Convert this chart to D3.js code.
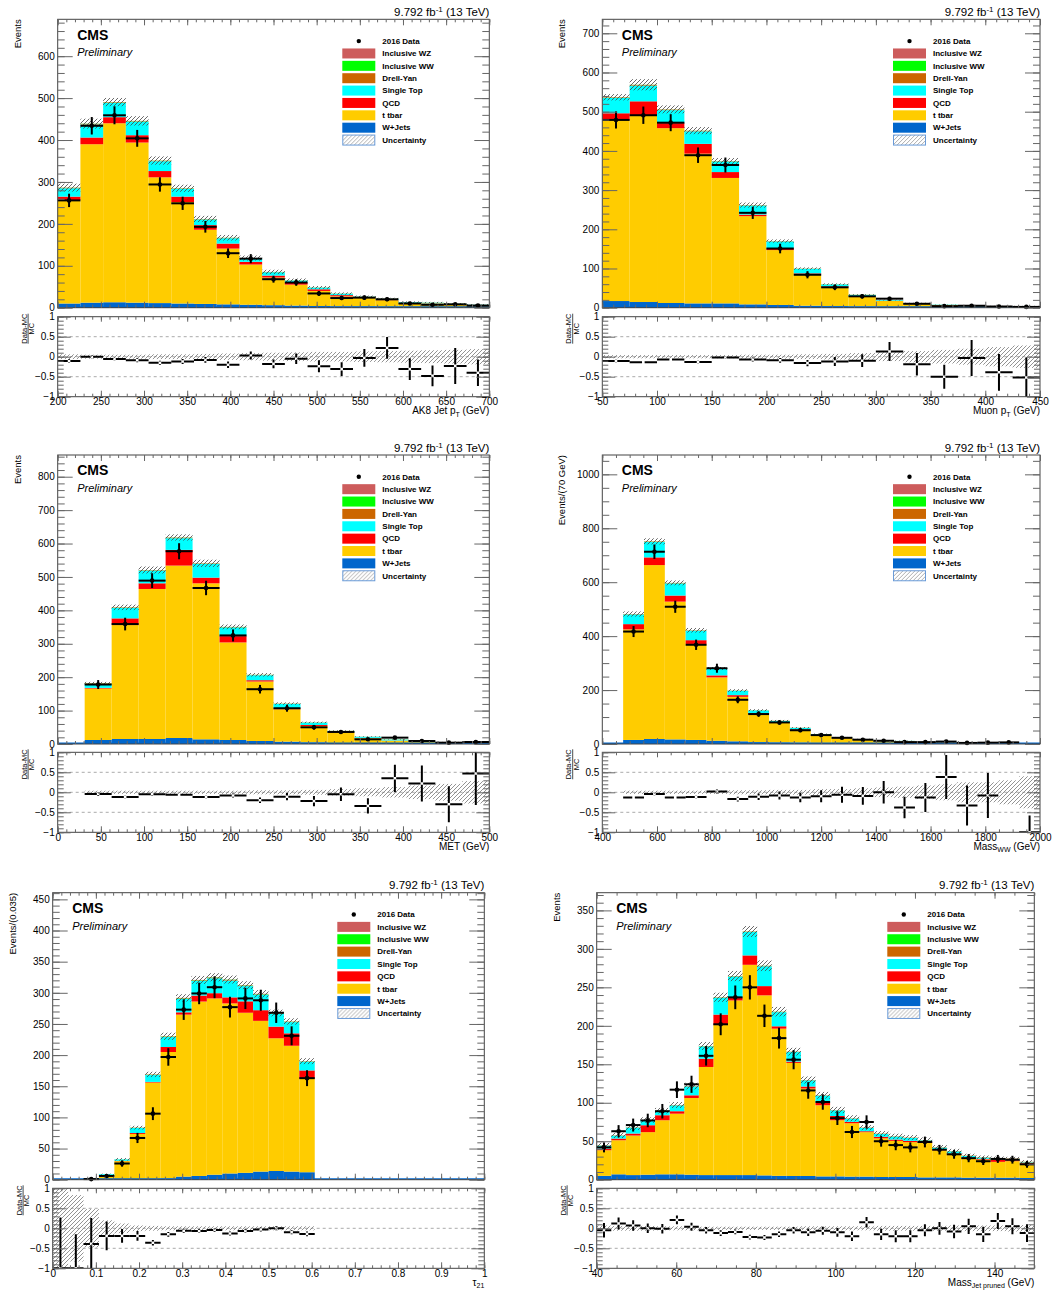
<!DOCTYPE html>
<html lang="en">
<head>
<meta charset="UTF-8" />
<title>CMS 2016 control distributions</title>
<script src="https://cdn.jsdelivr.net/npm/d3@7/dist/d3.min.js"></script>
<style>
  body { margin: 0; background: #fff; }
  svg { display: block; }
</style>
</head>
<body>
<svg id="chart" width="1057" height="1295"></svg>
<script>
// ---------- AK8 jet pT (200-700, 19 bins) ----------
const jetWJets = [10, 12, 13, 12, 11, 10, 9, 8, 7, 6, 5, 4, 3, 3, 2, 2, 1.5, 1, 1];
const jetTTbar = [247, 378, 427, 382, 300, 242, 177, 133, 96, 66, 50, 36, 24, 21, 16, 9, 8.5, 7, 5];
const jetQCD   = [8, 16, 14.5, 17.5, 15, 13, 11, 12, 6.5, 4.6, 4.8, 4, 3, 1, 0.5, 0.5, 0.5, 0.3, 0.2];
const jetSTop  = [20, 31, 34, 32.5, 23.5, 18.5, 13.5, 12.8, 8, 8, 5, 3.8, 3.3, 1, 2.5, 1.7, 1.3, 0.9, 0.8];
const jetDY    = [1, 1.2, 1.2, 1, 1, 0.8, 0.7, 0.6, 0.5, 0.4, 0.3, 0.3, 0.2, 0.2, 0.2, 0.1, 0.2, 0.2, 0.2];
const jetWW    = [0.3, 0.5, 0.5, 0.5, 0.4, 0.4, 0.3, 0.3, 0.3, 0.2, 0.2, 0.2, 0.2, 0.2, 0.2, 0.1, 0.2, 0.2, 0.1];
const jetWZ    = [0.2, 0.3, 0.3, 0.3, 0.2, 0.2, 0.2, 0.2, 0.2, 0.2, 0.1, 0.1, 0.1, 0.1, 0.1, 0.1, 0.1, 0.1, 0.1];
const jetData  = [256, 434, 459, 404, 294, 249, 193, 130, 117, 68, 60, 34, 23, 24, 20, 10, 7, 8, 5];
const jetRatio = [-0.11, 0.0, -0.06, -0.09, -0.15, -0.12, -0.08, -0.2, 0.03, -0.18, -0.05, -0.24, -0.31, -0.03, 0.22, -0.31, -0.48, -0.23, -0.4];
const jetRatioErr = [0.05, 0.04, 0.04, 0.05, 0.05, 0.06, 0.07, 0.08, 0.1, 0.11, 0.13, 0.15, 0.17, 0.22, 0.27, 0.27, 0.26, 0.45, 0.33];
const jetBand  = [0.06, 0.05, 0.05, 0.05, 0.06, 0.06, 0.07, 0.08, 0.09, 0.1, 0.11, 0.12, 0.12, 0.13, 0.14, 0.15, 0.16, 0.17, 0.19];
const jetUnc   = [0.033, 0.027, 0.02, 0.025, 0.028, 0.03, 0.035, 0.04, 0.05, 0.06, 0.065, 0.07, 0.08, 0.09, 0.1, 0.12, 0.13, 0.14, 0.16];

// ---------- muon pT (50-450, 16 bins) ----------
const muWJets = [17, 14.5, 12, 11, 11, 8.5, 7, 5, 4, 3, 2, 1.5, 1, 1, 0.5, 0.5];
const muTTbar = [463, 475, 446, 382, 320, 225, 140, 80, 48, 26, 15, 8.5, 5.5, 3.5, 3, 2.5];
const muQCD   = [16, 37, 13, 25, 15, 4, 4.4, 2.6, 2.4, 1, 0.5, 0.5, 0.3, 0.2, 0.2, 0.8];
const muSTop  = [39, 40, 33, 32, 27, 23, 17.5, 11.5, 5, 2.5, 1.8, 1.2, 0.8, 0.3, 0.4, 0.2];
const muDY    = [1.2, 1.5, 1.2, 1, 0.8, 0.7, 0.6, 0.4, 0.3, 0.2, 0.1, 0.1, 0.1, 0.1, 0.1, 0.1];
const muWW    = [0.4, 0.5, 0.4, 0.4, 0.3, 0.3, 0.2, 0.2, 0.2, 0.3, 0.1, 0.1, 0.1, 0.1, 0.1, 0.1];
const muWZ    = [0.3, 0.3, 0.3, 0.3, 0.2, 0.2, 0.2, 0.1, 0.1, 0.1, 0.1, 0.1, 0.1, 0.1, 0.1, 0.1];
const muData  = [479, 491, 472, 389, 364, 242, 151, 84, 52, 29, 23, 10, 4, 5, 3, 2];
const muRatio = [-0.11, -0.14, -0.07, -0.13, -0.02, -0.07, -0.09, -0.16, -0.12, -0.1, 0.13, -0.19, -0.5, -0.03, -0.39, -0.52];
const muRatioErr = [0.03, 0.03, 0.03, 0.04, 0.04, 0.05, 0.06, 0.08, 0.11, 0.16, 0.24, 0.28, 0.3, 0.45, 0.46, 0.5];
const muBand  = [0.04, 0.04, 0.04, 0.04, 0.04, 0.05, 0.05, 0.06, 0.07, 0.09, 0.11, 0.14, 0.17, 0.2, 0.24, 0.28];
const muUnc   = [0.015, 0.025, 0.02, 0.02, 0.02, 0.025, 0.025, 0.03, 0.035, 0.04, 0.05, 0.06, 0.07, 0.08, 0.1, 0.12];

// ---------- MET (0-500, 16 bins) ----------
const metWJets = [0, 12, 15, 15, 18, 14, 12, 9, 7, 5, 3, 2, 1.5, 1, 0.7, 0.5];
const metTTbar = [0, 154, 341, 449, 516, 467, 292, 178, 97, 49, 32, 15.5, 8.5, 5.2, 3.8, 2.8];
const metQCD   = [0, 2, 20, 17, 47, 17, 19, 4, 3, 2.9, 1, 1, 0.5, 0.3, 0.3, 0.2];
const metSTop  = [0, 12, 31, 38, 35, 41, 26, 15, 13, 7, 3, 3, 2.5, 0.6, 0.7, 0.4];
const metDY    = [0, 1.5, 1.2, 1, 1.2, 1, 0.8, 0.6, 0.5, 0.4, 0.2, 0.2, 0.2, 0.1, 0.1, 0.1];
const metWW    = [0, 0.5, 0.5, 0.5, 0.6, 0.5, 0.5, 0.4, 0.3, 0.2, 0.2, 0.2, 0.5, 0.1, 0.1, 0.1];
const metWZ    = [0, 0.3, 0.3, 0.3, 0.4, 0.3, 0.3, 0.2, 0.2, 0.1, 0.1, 0.1, 0.1, 0.1, 0.1, 0.1];
const metData  = [0, 178, 359, 489, 577, 467, 325, 164, 107, 50, 36, 14, 19, 9, 4, 6];
const metRatio = [null, -0.04, -0.12, -0.05, -0.06, -0.12, -0.08, -0.2, -0.11, -0.22, -0.05, -0.34, 0.35, 0.22, -0.3, 0.47];
const metRatioErr = [0, 0.05, 0.04, 0.04, 0.03, 0.04, 0.05, 0.07, 0.09, 0.13, 0.17, 0.19, 0.34, 0.45, 0.45, 0.79];
const metBand  = [0, 0.04, 0.04, 0.04, 0.04, 0.04, 0.04, 0.05, 0.05, 0.06, 0.08, 0.1, 0.13, 0.17, 0.21, 0.28];
const metUnc   = [0, 0.02, 0.02, 0.02, 0.015, 0.02, 0.02, 0.025, 0.03, 0.035, 0.04, 0.05, 0.06, 0.08, 0.1, 0.12];

// ---------- Mass WW (400-2000, 21 bins) ----------
const mwwWJets = [0, 15, 18.5, 17, 15, 12, 10, 7, 6, 5, 4, 3, 2.5, 2, 1.5, 1.2, 1, 0.8, 0.6, 0.5, 0.4];
const mwwTTbar = [0, 410, 645, 511, 356, 235, 165, 104, 72, 47, 28, 18.5, 12.5, 8, 8.3, 5.3, 4.3, 4, 3.7, 3.9, 1.9];
const mwwQCD   = [0, 19.5, 28.5, 22.5, 14, 7.5, 6.2, 3.5, 2.6, 2.6, 1.5, 1, 1, 0.5, 0.7, 0.5, 0.3, 0.4, 0.3, 0.3, 0.2];
const mwwSTop  = [0, 36, 57, 45, 35, 24, 16, 10, 4.9, 5, 3, 2, 2, 1, 1, 0.8, 0.7, 0.6, 0.7, 0.3, 0.2];
const mwwDY    = [0, 1, 1.5, 1.2, 1, 0.8, 0.6, 0.5, 0.4, 0.4, 0.3, 0.2, 0.2, 0.1, 0.1, 0.1, 0.1, 0.1, 0.05, 0.05, 0.05];
const mwwWW    = [0, 0.3, 0.6, 0.5, 0.4, 0.3, 0.3, 0.2, 0.2, 0.2, 0.1, 0.1, 0.1, 0.1, 0.05, 0.05, 0.05, 0.05, 0.05, 0.05, 0.05];
const mwwWZ    = [0, 0.2, 0.4, 0.3, 0.3, 0.2, 0.2, 0.1, 0.1, 0.1, 0.1, 0.1, 0.1, 0.1, 0.05, 0.05, 0.05, 0.05, 0.05, 0.05, 0.05];
const mwwData  = [0, 417, 713, 509, 368, 281, 164, 111, 80, 51, 33, 23, 16, 12, 7, 7, 9, 4, 5, 6, 0];
const mwwRatio = [null, -0.13, -0.04, -0.13, -0.12, 0.02, -0.17, -0.11, -0.08, -0.13, -0.1, -0.06, -0.09, 0.0, -0.38, -0.13, 0.38, -0.33, -0.08, null, -1];
const mwwRatioErr = [0, 0.03, 0.03, 0.03, 0.04, 0.05, 0.06, 0.08, 0.1, 0.12, 0.15, 0.2, 0.22, 0.28, 0.27, 0.36, 0.55, 0.5, 0.56, 0, 0.42];
const mwwBand  = [0, 0.04, 0.04, 0.04, 0.04, 0.04, 0.05, 0.05, 0.06, 0.06, 0.08, 0.08, 0.1, 0.12, 0.14, 0.17, 0.2, 0.25, 0.25, 0.3, 0.4];
const mwwUnc   = [0, 0.02, 0.015, 0.015, 0.02, 0.02, 0.025, 0.03, 0.035, 0.04, 0.05, 0.05, 0.06, 0.07, 0.08, 0.09, 0.1, 0.12, 0.13, 0.15, 0.2];

// ---------- tau21 (0-1, 28 bins) ----------
const tauWJets = [0, 0, 0, 0.2, 0.3, 0.5, 1, 2, 5, 6, 8, 10, 11, 13, 14, 13, 12, 0, 0, 0, 0, 0, 0, 0, 0, 0, 0, 0];
const tauTTbar = [0.1, 0.5, 1.2, 6.2, 29.5, 73, 155, 203, 260, 280, 283, 273, 257, 242, 213, 202, 150, 0, 0, 0, 0, 0, 0, 0, 0, 0, 0, 0];
const tauQCD   = [0, 0, 0, 0.2, 0.5, 1.5, 1, 8, 3.7, 9.6, 8.4, 9.7, 18.3, 17.1, 18.7, 20, 13.4, 0, 0, 0, 0, 0, 0, 0, 0, 0, 0, 0];
const tauSTop  = [0, 0.3, 0.3, 2.2, 2.3, 8, 11, 16, 21.7, 23.5, 24, 27, 24.5, 25, 20.8, 18, 14, 0, 0, 0, 0, 0, 0, 0, 0, 0, 0, 0];
const tauDY    = [0, 0, 0, 0, 0.1, 0.3, 0.5, 0.6, 0.8, 0.8, 0.8, 0.8, 0.7, 0.6, 0.5, 0.5, 0.4, 0, 0, 0, 0, 0, 0, 0, 0, 0, 0, 0];
const tauWW    = [0, 0, 0, 0, 0.1, 0.2, 0.3, 0.4, 0.4, 0.5, 0.5, 0.5, 0.5, 0.4, 0.4, 0.3, 0.3, 0, 0, 0, 0, 0, 0, 0, 0, 0, 0, 0];
const tauWZ    = [0, 0, 0, 0, 0, 0.1, 0.2, 0.2, 0.3, 0.3, 0.3, 0.3, 0.3, 0.3, 0.2, 0.2, 0.2, 0, 0, 0, 0, 0, 0, 0, 0, 0, 0, 0];
const tauData  = [0, 0, 1, 6, 26, 67, 106, 197, 273, 299, 309, 277, 291, 288, 268, 231, 163, 0, 0, 0, 0, 0, 0, 0, 0, 0, 0, 0];
const tauRatio = [-1, -1, -0.39, -0.19, -0.19, -0.19, -0.36, -0.15, -0.06, -0.07, -0.04, -0.13, -0.07, -0.03, 0.0, -0.1, -0.14,
  null, null, null, null, null, null, null, null, null, null, null];
const tauRatioErr = [1.27, 0.85, 0.65, 0.36, 0.17, 0.12, 0.07, 0.06, 0.05, 0.05, 0.05, 0.05, 0.05, 0.05, 0.05, 0.05, 0.06, 0, 0, 0, 0, 0, 0, 0, 0, 0, 0, 0];
const tauBand  = [1.1, 0.83, 0.48, 0.2, 0.12, 0.07, 0.06, 0.05, 0.05, 0.05, 0.05, 0.05, 0.05, 0.05, 0.05, 0.05, 0.05, 0, 0, 0, 0, 0, 0, 0, 0, 0, 0, 0];
const tauUnc   = [0, 0.4, 0.25, 0.1, 0.06, 0.035, 0.025, 0.025, 0.02, 0.02, 0.02, 0.02, 0.02, 0.02, 0.02, 0.02, 0.025, 0, 0, 0, 0, 0, 0, 0, 0, 0, 0, 0];

// ---------- pruned jet mass (40-150, 30 bins) ----------
const mjWJets = [5, 7, 6, 6.5, 7, 7, 6.5, 6, 6, 6, 6, 5.6, 5, 4.8, 4.8, 4.3, 4.3, 4, 4, 3.5, 3.5, 3.5, 3, 3, 3, 2.6, 2.6, 2.6, 2.6, 2.2];
const mjTTbar = [33.3, 44.3, 51.4, 55.3, 70.3, 78.8, 99.7, 140.5, 195, 227, 273.3, 234, 191.3, 147, 113.7, 92.5, 73, 69.4, 57.8, 50.3, 47, 45.3, 44.8, 35.3, 29.8, 24.5, 23.6, 20.6, 21.5, 18.8];
const mjQCD   = [2.2, 2.2, 2.6, 9, 6.5, 3.2, 3.5, 10.8, 13.6, 3.6, 12.2, 12, 3.1, 1.7, 2.6, 3.5, 5.5, 1.8, 1.2, 1.9, 1.7, 1.7, 1.4, 1.3, 1.2, 1.7, 0.9, 3, 1.3, 0.8];
const mjSTop  = [3.7, 3.7, 7.6, 6.3, 5.4, 7.6, 11.5, 15.9, 21.8, 27.4, 30.4, 25.8, 18.4, 12.4, 8, 8.9, 7.3, 4.1, 4.2, 3.7, 3.7, 3.7, 1.9, 2, 2.8, 2, 1.5, 1.1, 1.5, 0.8];
const mjDY    = [0.3, 0.3, 0.3, 0.3, 0.3, 0.3, 0.3, 0.3, 0.4, 0.4, 0.4, 0.4, 0.3, 0.3, 0.3, 0.3, 0.3, 0.3, 0.3, 0.3, 0.3, 0.3, 0.3, 0.3, 0.3, 0.3, 0.3, 0.3, 0.3, 0.5];
const mjWW    = [0.1, 0.1, 0.1, 0.1, 0.1, 0.1, 0.1, 0.2, 0.2, 0.2, 0.2, 0.2, 0.2, 0.1, 0.1, 0.1, 0.1, 0.1, 0.1, 0.1, 0.1, 0.1, 0.1, 0.1, 0.1, 0.1, 0.1, 0.1, 0.1, 0.1];
const mjWZ    = [0.1, 0.1, 0.1, 0.1, 0.1, 0.1, 0.1, 0.1, 0.1, 0.1, 0.1, 0.1, 0.1, 0.1, 0.1, 0.1, 0.1, 0.1, 0.1, 0.1, 0.1, 0.1, 0.1, 0.1, 0.1, 0.1, 0.1, 0.1, 0.1, 0.1];
const mjData  = [42, 63, 71, 77, 89, 117, 124, 161, 202, 237, 250, 213, 184, 156, 116, 101, 80, 62, 75, 50, 45, 42, 49, 39, 33, 28, 24, 27, 26, 20];
const mjRatio = [-0.05, 0.12, 0.07, 0.0, -0.01, 0.21, 0.04, -0.05, -0.12, -0.09, -0.22, -0.23, -0.15, -0.05, -0.1, -0.06, -0.1, -0.2, 0.15, -0.15,
  -0.2, -0.2, -0.05, 0.0, -0.08, 0.05, -0.15, 0.18, 0.05, -0.12];
const mjRatioErr = [0.18, 0.15, 0.13, 0.12, 0.12, 0.11, 0.1, 0.08, 0.07, 0.06, 0.06, 0.06, 0.07, 0.08, 0.09, 0.1, 0.11, 0.12, 0.13, 0.14,
  0.15, 0.15, 0.15, 0.16, 0.17, 0.19, 0.19, 0.2, 0.2, 0.22];
const mjBand  = [0.07, 0.06, 0.06, 0.06, 0.05, 0.05, 0.05, 0.04, 0.04, 0.04, 0.04, 0.04, 0.04, 0.04, 0.05, 0.05, 0.05, 0.05, 0.05, 0.06,
  0.06, 0.06, 0.06, 0.06, 0.07, 0.07, 0.07, 0.07, 0.08, 0.08];
const mjUnc   = [0.07, 0.06, 0.05, 0.045, 0.04, 0.04, 0.035, 0.03, 0.025, 0.025, 0.022, 0.025, 0.028, 0.03, 0.035, 0.04, 0.045, 0.05, 0.05, 0.055,
  0.06, 0.06, 0.065, 0.07, 0.075, 0.08, 0.08, 0.085, 0.085, 0.09];

// ---------- style ----------
const FONT = '"Liberation Sans", Arial, Helvetica, sans-serif';
const procKeys = ['wjets', 'ttbar', 'qcd', 'stop', 'dy', 'ww', 'wz'];
const procColors = {
  wjets: '#0066cc', ttbar: '#ffcc00', qcd: '#ff0000', stop: '#00ffff',
  dy: '#cc6600', ww: '#00ff00', wz: '#cd5c5c'
};
const legendItems = [
  ['data', '2016 Data'], ['wz', 'Inclusive WZ'], ['ww', 'Inclusive WW'], ['dy', 'Drell-Yan'],
  ['stop', 'Single Top'], ['qcd', 'QCD'], ['ttbar', 't tbar'], ['wjets', 'W+Jets'], ['unc', 'Uncertainty']
];

// row geometry (main pad / ratio pad)
const rows = [
  { mainTop: 19.3, mainBottom: 307.7, ratioTop: 316.7, ratioBottom: 396.7 },
  { mainTop: 455, mainBottom: 744, ratioTop: 752.3, ratioBottom: 832.3 },
  { mainTop: 892.7, mainBottom: 1179.7, ratioTop: 1188.3, ratioBottom: 1268.3 }
];

const panels = [
  { row: 0, x0: 57.7, x1: 489.3, xRange: [200, 700], xMajor: 50, xMinor: 10, yMax: 688, yMajor: 100, yMinor: 20,
    yTitle: 'Events', xTitle: [['AK8 Jet p'], ['T', 'sub'], [' (GeV)']],
    mc: { wjets: jetWJets, ttbar: jetTTbar, qcd: jetQCD, stop: jetSTop, dy: jetDY, ww: jetWW, wz: jetWZ },
    data: jetData, ratio: jetRatio, ratioErr: jetRatioErr, band: jetBand, unc: jetUnc },
  { row: 0, x0: 602.3, x1: 1040, xRange: [50, 450], xMajor: 50, xMinor: 10, yMax: 735.7, yMajor: 100, yMinor: 20,
    yTitle: 'Events', xTitle: [['Muon p'], ['T', 'sub'], [' (GeV)']],
    mc: { wjets: muWJets, ttbar: muTTbar, qcd: muQCD, stop: muSTop, dy: muDY, ww: muWW, wz: muWZ },
    data: muData, ratio: muRatio, ratioErr: muRatioErr, band: muBand, unc: muUnc },
  { row: 1, x0: 57.7, x1: 489.3, xRange: [0, 500], xMajor: 50, xMinor: 10, yMax: 865, yMajor: 100, yMinor: 20,
    yTitle: 'Events', xTitle: [['MET (GeV)']],
    mc: { wjets: metWJets, ttbar: metTTbar, qcd: metQCD, stop: metSTop, dy: metDY, ww: metWW, wz: metWZ },
    data: metData, ratio: metRatio, ratioErr: metRatioErr, band: metBand, unc: metUnc },
  { row: 1, x0: 602.3, x1: 1040, xRange: [400, 2000], xMajor: 200, xMinor: 50, yMax: 1071.7, yMajor: 200, yMinor: 50,
    yTitle: 'Events/(70 GeV)', xTitle: [['Mass'], ['WW', 'sub'], [' (GeV)']],
    mc: { wjets: mwwWJets, ttbar: mwwTTbar, qcd: mwwQCD, stop: mwwSTop, dy: mwwDY, ww: mwwWW, wz: mwwWZ },
    data: mwwData, ratio: mwwRatio, ratioErr: mwwRatioErr, band: mwwBand, unc: mwwUnc },
  { row: 2, x0: 52.7, x1: 484.3, xRange: [0, 1], xMajor: 0.1, xMinor: 0.02, yMax: 460.7, yMajor: 50, yMinor: 10,
    yTitle: 'Events/(0.035)', xTitle: [['\u03c4'], ['21', 'sub']],
    mc: { wjets: tauWJets, ttbar: tauTTbar, qcd: tauQCD, stop: tauSTop, dy: tauDY, ww: tauWW, wz: tauWZ },
    data: tauData, ratio: tauRatio, ratioErr: tauRatioErr, band: tauBand, unc: tauUnc },
  { row: 2, x0: 596.7, x1: 1034.3, xRange: [40, 150], xMajor: 20, xMinor: 5, yMax: 373, yMajor: 50, yMinor: 10,
    yTitle: 'Events', xTitle: [['Mass'], ['Jet pruned', 'sub'], [' (GeV)']],
    mc: { wjets: mjWJets, ttbar: mjTTbar, qcd: mjQCD, stop: mjSTop, dy: mjDY, ww: mjWW, wz: mjWZ },
    data: mjData, ratio: mjRatio, ratioErr: mjRatioErr, band: mjBand, unc: mjUnc }
];

const svg = d3.select('#chart').attr('font-family', FONT);
svg.append('rect').attr('width', 1057).attr('height', 1295).attr('fill', '#fff');
const defs = svg.append('defs');

function hatch(id, color, w) {
  const p = defs.append('pattern').attr('id', id)
    .attr('patternUnits', 'userSpaceOnUse').attr('width', 4).attr('height', 4);
  p.append('path').attr('d', 'M-1,1 l2,-2 M0,4 l4,-4 M3,5 l2,-2')
    .attr('stroke', color).attr('stroke-width', w).attr('fill', 'none');
}
hatch('hatchMain', '#444', 0.8);
hatch('hatchRatio', '#777', 0.8);
hatch('hatchLegend', '#999', 0.8);

// inclusive list of values a..b every s
function steps(a, b, s) {
  const n = Math.floor((b - a) / s + 1e-9);
  return d3.range(n + 1).map(k => +(a + k * s).toFixed(6));
}

function axis(sel, fn, scale, vals, size, labels, pad) {
  sel.call(fn(scale).tickValues(vals).tickSize(size).tickPadding(pad == null ? 3 : pad)
    .tickFormat(labels ? d3.format('~g') : ''));
  sel.select('.domain').remove();
  sel.attr('font-family', FONT).attr('font-size', 10);
  sel.selectAll('line').attr('stroke', '#666');
  sel.selectAll('text').attr('fill', '#000');
}

function richText(t, parts, size) {
  let shift = 0;
  parts.forEach(([s, kind]) => {
    const target = kind === 'sub' ? 2.5 : kind === 'sup' ? -4 : 0;
    t.append('tspan').attr('dy', target - shift)
      .attr('font-size', kind ? size * 0.7 : size).text(s);
    shift = target;
  });
}

function drawPanel(p, pi) {
  const r = rows[p.row];
  const n = p.data.length;
  const [xa, xb] = p.xRange;
  const edges = d3.range(n + 1).map(i => xa + (xb - xa) * i / n);
  const x = d3.scaleLinear().domain(p.xRange).range([p.x0, p.x1]);
  const y = d3.scaleLinear().domain([0, p.yMax]).range([r.mainBottom, r.mainTop]);
  const yr = d3.scaleLinear().domain([-1, 1]).range([r.ratioBottom, r.ratioTop]);
  const binX = i => x(edges[i]);
  const binW = i => x(edges[i + 1]) - x(edges[i]);
  const idx = d3.range(n);
  const g = svg.append('g');

  // stacked backgrounds
  const table = idx.map(i => {
    const o = {};
    procKeys.forEach(k => { o[k] = p.mc[k][i]; });
    return o;
  });
  const series = d3.stack().keys(procKeys)(table);
  const totals = series[series.length - 1].map(d => d[1]);

  g.append('g').selectAll('g').data(series).join('g')
    .attr('fill', s => procColors[s.key])
    .selectAll('rect').data(s => s).join('rect')
    .attr('x', (d, i) => binX(i)).attr('width', (d, i) => binW(i))
    .attr('y', d => y(d[1]))
    .attr('height', d => Math.max(0, y(d[0]) - y(d[1])));

  g.append('line').attr('x1', p.x0).attr('x2', p.x1)
    .attr('y1', y(0) - 0.8).attr('y2', y(0) - 0.8)
    .attr('stroke', procColors.wjets).attr('stroke-width', 1.5);

  // MC uncertainty
  g.append('g').selectAll('rect').data(idx.filter(i => totals[i] > 0)).join('rect')
    .attr('x', binX).attr('width', binW)
    .attr('y', i => y(totals[i] * (1 + p.unc[i])))
    .attr('height', i => y(totals[i] * (1 - p.unc[i])) - y(totals[i] * (1 + p.unc[i])))
    .attr('fill', 'url(#hatchMain)');

  // data
  const pts = idx.filter(i => p.data[i] > 0);
  const dg = g.append('g').attr('stroke', '#000').attr('stroke-width', 2);
  dg.selectAll('line.h').data(pts).join('line').attr('class', 'h')
    .attr('x1', binX).attr('x2', i => binX(i) + binW(i))
    .attr('y1', i => y(p.data[i])).attr('y2', i => y(p.data[i]));
  dg.selectAll('line.v').data(pts).join('line').attr('class', 'v')
    .attr('x1', i => binX(i) + binW(i) / 2).attr('x2', i => binX(i) + binW(i) / 2)
    .attr('y1', i => y(p.data[i] + Math.sqrt(p.data[i])))
    .attr('y2', i => y(p.data[i] - Math.sqrt(p.data[i])));
  g.append('g').selectAll('circle').data(pts).join('circle')
    .attr('cx', i => binX(i) + binW(i) / 2).attr('cy', i => y(p.data[i]))
    .attr('r', 2.3).attr('fill', '#000');

  // main frame + axes
  g.append('rect').attr('x', p.x0).attr('y', r.mainTop)
    .attr('width', p.x1 - p.x0).attr('height', r.mainBottom - r.mainTop)
    .attr('fill', 'none').attr('stroke', '#444');
  const yMaj = steps(0, p.yMax, p.yMajor), yMin = steps(0, p.yMax, p.yMinor);
  const xMaj = steps(xa, xb, p.xMajor), xMin = steps(xa, xb, p.xMinor);
  const left = g.append('g').attr('transform', `translate(${p.x0},0)`);
  axis(left.append('g'), d3.axisLeft, y, yMaj, -15, true);
  axis(left.append('g'), d3.axisLeft, y, yMin, -7, false);
  const right = g.append('g').attr('transform', `translate(${p.x1},0)`);
  axis(right.append('g'), d3.axisRight, y, yMaj, -15, false);
  axis(right.append('g'), d3.axisRight, y, yMin, -7, false);
  const top = g.append('g').attr('transform', `translate(0,${r.mainTop})`);
  axis(top.append('g'), d3.axisTop, x, xMaj, -6, false);
  axis(top.append('g'), d3.axisTop, x, xMin, -3, false);
  const bot = g.append('g').attr('transform', `translate(0,${r.mainBottom})`);
  axis(bot.append('g'), d3.axisBottom, x, xMaj, -6, false);
  axis(bot.append('g'), d3.axisBottom, x, xMin, -3, false);

  // texts
  g.append('text').attr('transform', `translate(${p.x0 - 37},${r.mainTop}) rotate(-90)`)
    .attr('text-anchor', 'end').attr('font-size', 9.5).text(p.yTitle);
  const lumi = g.append('text').attr('x', p.x1).attr('y', r.mainTop - 3.3)
    .attr('text-anchor', 'end');
  richText(lumi, [['9.792 fb'], ['-1', 'sup'], [' (13 TeV)']], 11.5);
  g.append('text').attr('x', p.x0 + 19.5).attr('y', r.mainTop + 20.3)
    .attr('font-size', 14).attr('font-weight', 'bold').text('CMS');
  g.append('text').attr('x', p.x0 + 19.5).attr('y', r.mainTop + 37)
    .attr('font-size', 11).attr('font-style', 'italic').text('Preliminary');

  // legend
  const lg = g.append('g').attr('transform', `translate(${p.x1 - 147},${r.mainTop + 21.8})`);
  legendItems.forEach(([key, label], k) => {
    const yy = k * 12.37;
    if (key === 'data') {
      lg.append('circle').attr('cx', 16.5).attr('cy', yy).attr('r', 2.2).attr('fill', '#000');
    } else if (key === 'unc') {
      lg.append('rect').attr('x', 0.5).attr('y', yy - 5).attr('width', 32).attr('height', 10)
        .attr('fill', 'url(#hatchLegend)').attr('stroke', '#6a9bd8');
    } else {
      lg.append('rect').attr('x', 0).attr('y', yy - 5).attr('width', 33).attr('height', 10)
        .attr('fill', procColors[key]);
    }
    lg.append('text').attr('x', 40).attr('y', yy).attr('dy', '0.35em')
      .attr('font-size', 8).attr('font-weight', 'bold').text(label);
  });

  // ratio pad
  const clipId = 'rclip' + pi;
  defs.append('clipPath').attr('id', clipId).append('rect')
    .attr('x', p.x0).attr('y', r.ratioTop).attr('width', p.x1 - p.x0)
    .attr('height', r.ratioBottom - r.ratioTop);
  const rg = g.append('g');
  const rc = rg.append('g').attr('clip-path', `url(#${clipId})`);
  rc.selectAll('line.ref').data([0.5, 0, -0.5]).join('line').attr('class', 'ref')
    .attr('x1', p.x0).attr('x2', p.x1).attr('y1', d => yr(d)).attr('y2', d => yr(d))
    .attr('stroke', '#aaa').attr('stroke-dasharray', '3,3');
  rc.selectAll('rect.band').data(idx.filter(i => totals[i] > 0)).join('rect').attr('class', 'band')
    .attr('x', binX).attr('width', binW)
    .attr('y', i => yr(p.band[i])).attr('height', i => yr(-p.band[i]) - yr(p.band[i]))
    .attr('fill', 'url(#hatchRatio)');
  const rp = idx.filter(i => p.ratio[i] != null);
  const gap = 1.3;
  const rl = rc.append('g').attr('stroke', '#000').attr('stroke-width', 2);
  rp.forEach(i => {
    const cx = binX(i) + binW(i) / 2, cy = yr(p.ratio[i]);
    const e = p.ratioErr[i];
    rl.append('line').attr('x1', binX(i)).attr('x2', cx - gap).attr('y1', cy).attr('y2', cy);
    rl.append('line').attr('x1', cx + gap).attr('x2', binX(i) + binW(i)).attr('y1', cy).attr('y2', cy);
    rl.append('line').attr('x1', cx).attr('x2', cx).attr('y1', yr(p.ratio[i] + e)).attr('y2', cy - gap);
    rl.append('line').attr('x1', cx).attr('x2', cx).attr('y1', cy + gap).attr('y2', yr(p.ratio[i] - e));
  });

  rg.append('rect').attr('x', p.x0).attr('y', r.ratioTop)
    .attr('width', p.x1 - p.x0).attr('height', r.ratioBottom - r.ratioTop)
    .attr('fill', 'none').attr('stroke', '#444');
  const rMaj = [-1, -0.5, 0, 0.5, 1], rMin = steps(-1, 1, 0.1);
  const rl2 = rg.append('g').attr('transform', `translate(${p.x0},0)`);
  axis(rl2.append('g'), d3.axisLeft, yr, rMaj, -13, true);
  axis(rl2.append('g'), d3.axisLeft, yr, rMin, -6, false);
  const rr = rg.append('g').attr('transform', `translate(${p.x1},0)`);
  axis(rr.append('g'), d3.axisRight, yr, rMaj, -13, false);
  axis(rr.append('g'), d3.axisRight, yr, rMin, -6, false);
  const rt = rg.append('g').attr('transform', `translate(0,${r.ratioTop})`);
  axis(rt.append('g'), d3.axisTop, x, xMaj, -5, false);
  axis(rt.append('g'), d3.axisTop, x, xMin, -3, false);
  const rb = rg.append('g').attr('transform', `translate(0,${r.ratioBottom})`);
  axis(rb.append('g'), d3.axisBottom, x, xMaj, -6, true, 1.5);
  axis(rb.append('g'), d3.axisBottom, x, xMin, -3, false);

  const xt = rg.append('text').attr('x', p.x1).attr('y', r.ratioBottom + 17.5)
    .attr('text-anchor', 'end');
  richText(xt, p.xTitle, 10);

  // "Data-MC over MC" axis title
  const fr = rg.append('g').attr('transform', `translate(${p.x0 - 36},${r.ratioTop + 12}) rotate(-90)`)
    .attr('font-size', 7.5).attr('text-anchor', 'middle');
  fr.append('text').attr('x', 0).attr('y', 5).text('Data-MC');
  fr.append('line').attr('x1', -15).attr('x2', 15).attr('y1', 6.4).attr('y2', 6.4)
    .attr('stroke', '#000').attr('stroke-width', 0.7);
  fr.append('text').attr('x', 0).attr('y', 12.6).text('MC');
}

panels.forEach(drawPanel);
</script>
</body>
</html>
